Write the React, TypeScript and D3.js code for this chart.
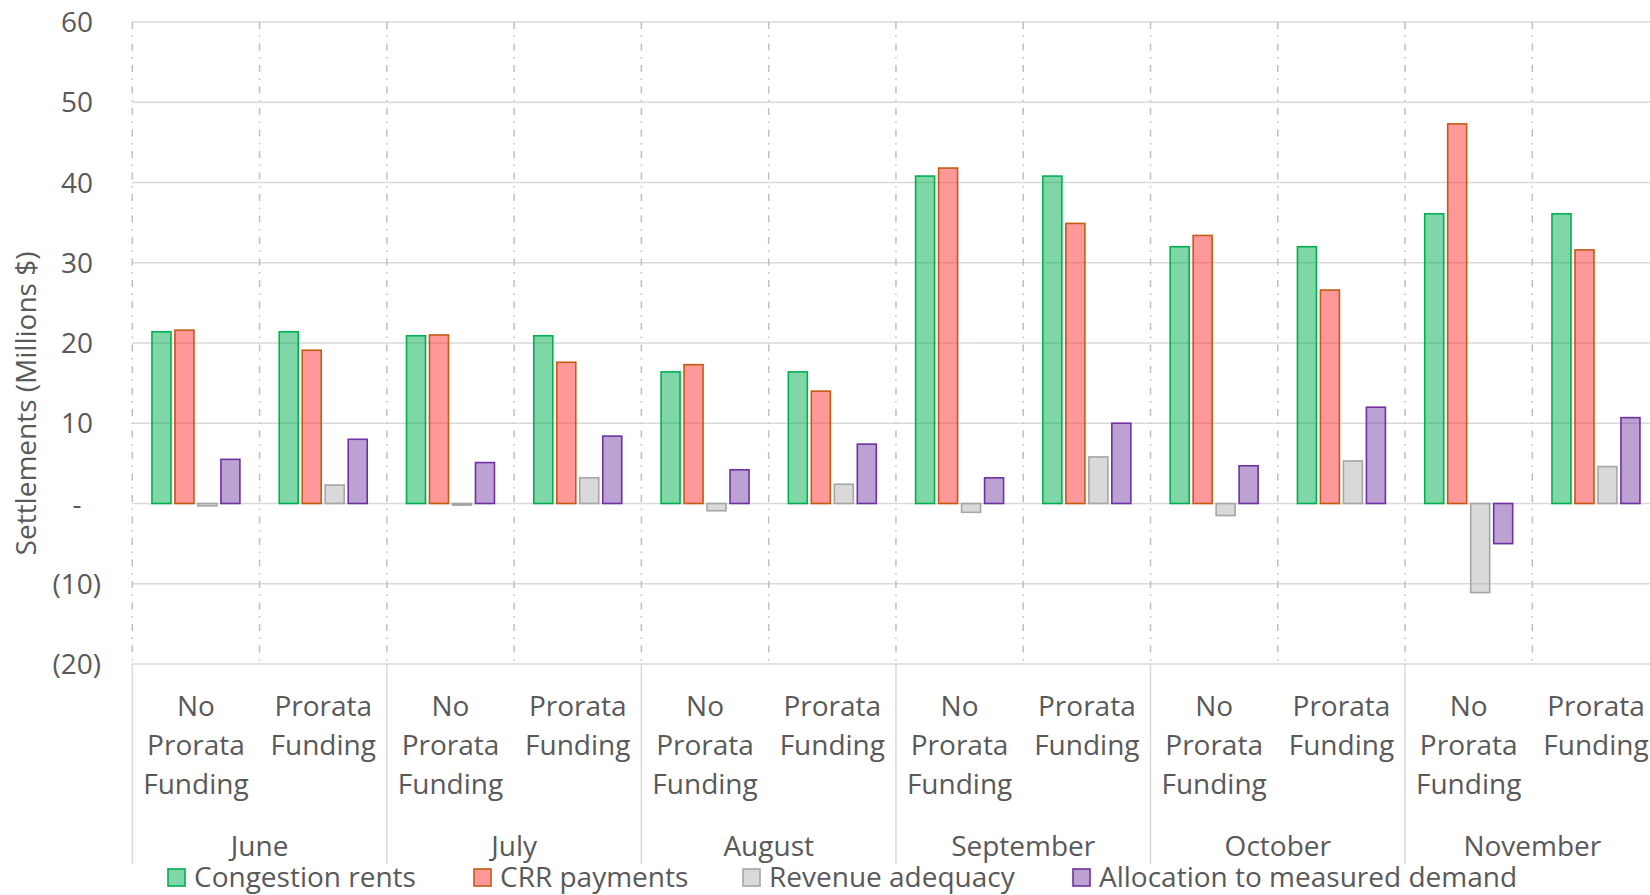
import React from "react";
import * as d3 from "d3";

const months = ["June", "July", "August", "September", "October", "November"];
const scenarios = ["No Prorata Funding", "Prorata Funding"];
const seriesNames = ["Congestion rents", "CRR payments", "Revenue adequacy", "Allocation to measured demand"];

// values ordered: month x scenario (No Prorata, Prorata)
const congestionRents = [21.4, 21.4, 20.9, 20.9, 16.4, 16.4, 40.8, 40.8, 32.0, 32.0, 36.1, 36.1];
const crrPayments = [21.6, 19.1, 21.0, 17.6, 17.3, 14.0, 41.8, 34.9, 33.4, 26.6, 47.3, 31.6];
const revenueAdequacy = [-0.3, 2.3, -0.2, 3.2, -0.9, 2.4, -1.1, 5.8, -1.5, 5.3, -11.1, 4.6];
const allocationDemand = [5.5, 8.0, 5.1, 8.4, 4.2, 7.4, 3.2, 10.0, 4.7, 12.0, -5.0, 10.7];

const yTicks = [60, 50, 40, 30, 20, 10, 0, -10, -20];

const seriesValues = [congestionRents, crrPayments, revenueAdequacy, allocationDemand];
const fills = ["#00B050", "#FF3333", "#B3B3B3", "#7945A7"];
const strokes = ["#00B050", "#C55A11", "#A6A6A6", "#7030A0"];

const W = 1650;
const H = 895;
const FONT = "'Open Sans', sans-serif";
const TXT = "#595959";
const GRID = "#D9D9D9";
const FS = 28;

export default function App() {
  const left = 132.3;
  const right = 1659.6;
  const top = 22;
  const bottom = 664;

  const y = d3.scaleLinear().domain([-20, 60]).range([bottom, top]);
  const xMonth = d3.scaleBand<string>().domain(months).range([left, right]).padding(0);
  const xScen = d3.scaleBand<string>().domain(scenarios).range([0, xMonth.bandwidth()]).padding(0);
  const xSer = d3
    .scaleBand<string>()
    .domain(seriesNames)
    .range([0, xScen.bandwidth()])
    .paddingInner(0.174)
    .paddingOuter(0.855);

  const catStarts: number[] = [];
  months.forEach((m) => scenarios.forEach((s) => catStarts.push((xMonth(m) as number) + (xScen(s) as number))));
  const catBoundaries = [...catStarts, right];
  const monthBoundaries = [...months.map((m) => xMonth(m) as number), right];

  const fmt = (v: number) => (v === 0 ? "-" : v < 0 ? `(${Math.abs(v)})` : `${v}`);

  const legendX = [168, 474, 743, 1073];

  return (
    <svg
      width={W}
      height={H}
      style={{ position: "absolute", left: 0, top: 0, display: "block", background: "#fff" }}
      fontFamily={FONT}
    >
      {/* horizontal gridlines */}
      {yTicks.map((t) => (
        <line key={"g" + t} x1={left} x2={W} y1={y(t)} y2={y(t)} stroke={GRID} strokeWidth={1.5} />
      ))}
      {/* vertical dashed category lines */}
      {catBoundaries.map((x, i) => (
        <line
          key={"v" + i}
          x1={x}
          x2={x}
          y1={top}
          y2={bottom}
          stroke="#BFBFBF"
          strokeWidth={1.5}
          strokeDasharray="7 6.5 1.5 6.5"
        />
      ))}
      {/* month separators below axis */}
      {monthBoundaries.map((x, i) => (
        <line key={"m" + i} x1={x} x2={x} y1={bottom} y2={864} stroke={GRID} strokeWidth={1.5} />
      ))}
      {/* bars */}
      {seriesValues.map((vals, si) =>
        vals.map((v, ci) => {
          const x0 = catStarts[ci] + (xSer(seriesNames[si]) as number);
          const y0 = Math.min(y(v), y(0));
          const h = Math.abs(y(v) - y(0));
          return (
            <rect
              key={`b${si}-${ci}`}
              x={x0}
              y={y0}
              width={xSer.bandwidth()}
              height={h}
              fill={fills[si]}
              fillOpacity={0.5}
              stroke={strokes[si]}
              strokeWidth={1.6}
            />
          );
        })
      )}
      {/* y tick labels */}
      {yTicks.map((t) => (
        <text
          key={"t" + t}
          x={t === 0 ? 77 : t < 0 ? 101 : 93}
          y={y(t)}
          dy="0.36em"
          textAnchor={t === 0 ? "middle" : "end"}
          fontSize={FS}
          fill={TXT}
        >
          {fmt(t)}
        </text>
      ))}
      {/* y axis title */}
      <text
        transform={`translate(36, 403.5) rotate(-90)`}
        textAnchor="middle"
        fontSize={FS}
        fill={TXT}
      >
        Settlements (Millions $)
      </text>
      {/* category labels */}
      {months.map((m) =>
        scenarios.map((s) => {
          const cx = (xMonth(m) as number) + (xScen(s) as number) + xScen.bandwidth() / 2;
          const words = s.split(" ");
          return (
            <text key={m + s} textAnchor="middle" fontSize={FS} fill={TXT}>
              {words.map((w, i) => (
                <tspan key={i} x={cx} y={716 + i * 39}>
                  {w}
                </tspan>
              ))}
            </text>
          );
        })
      )}
      {/* month labels */}
      {months.map((m) => (
        <text
          key={"ml" + m}
          x={(xMonth(m) as number) + xMonth.bandwidth() / 2}
          y={856}
          textAnchor="middle"
          fontSize={FS}
          fill={TXT}
        >
          {m}
        </text>
      ))}
      {/* legend */}
      {seriesNames.map((n, i) => (
        <g key={"lg" + n}>
          <rect
            x={legendX[i]}
            y={869}
            width={17}
            height={17}
            fill={fills[i]}
            fillOpacity={0.5}
            stroke={strokes[i]}
            strokeWidth={1.6}
          />
          <text x={legendX[i] + 26} y={887} fontSize={FS} fill={TXT}>
            {n}
          </text>
        </g>
      ))}
    </svg>
  );
}
